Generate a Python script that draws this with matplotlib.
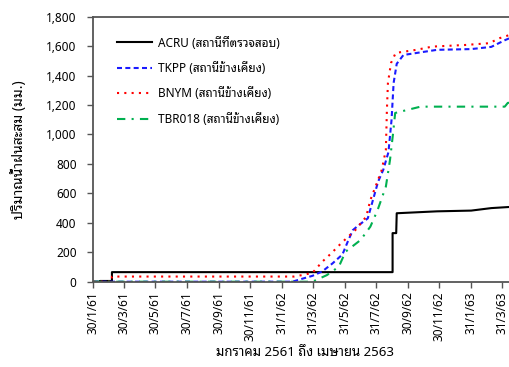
import matplotlib
matplotlib.use("Agg")
import matplotlib.pyplot as plt
import pandas as pd

plt.rcParams['font.family'] = ['Noto Sans Thai Looped', 'DejaVu Sans']

# accumulated rainfall (mm)
acru_dates = ['2018-01-30', '2018-02-12', '2018-02-12', '2018-03-07', '2018-03-07',
              '2019-09-01', '2019-09-01', '2019-09-08', '2019-09-09', '2019-11-26',
              '2020-01-31', '2020-03-10', '2020-04-25']
acru_vals = [0, 0, 5, 5, 65, 65, 330, 330, 465, 478, 483, 500, 510]

tkpp_dates = ['2018-01-30', '2019-02-19', '2019-03-10', '2019-03-30', '2019-04-18',
              '2019-05-08', '2019-05-27', '2019-06-06', '2019-06-16', '2019-06-26',
              '2019-07-15', '2019-07-25', '2019-08-04', '2019-08-14', '2019-08-24',
              '2019-08-30', '2019-09-03', '2019-09-09', '2019-09-22', '2019-11-26',
              '2020-01-31', '2020-03-10', '2020-04-05', '2020-04-25']
tkpp_vals = [0, 0, 20, 40, 70, 125, 185, 270, 350, 380, 430, 555, 680, 760, 880,
             1100, 1350, 1480, 1540, 1575, 1580, 1595, 1640, 1670]

bnym_dates = ['2018-01-30', '2018-03-07', '2018-03-07', '2019-02-22', '2019-03-10',
              '2019-03-30', '2019-04-18', '2019-05-06', '2019-05-25', '2019-06-21',
              '2019-07-12', '2019-07-20', '2019-07-30', '2019-08-11', '2019-08-19',
              '2019-08-21', '2019-08-23', '2019-08-29', '2019-09-07', '2019-10-17',
              '2019-11-17', '2020-01-20', '2020-03-06', '2020-03-26', '2020-04-25']
bnym_vals = [0, 0, 35, 35, 45, 60, 136, 195, 263, 351, 442, 555, 646, 759, 895,
             1167, 1350, 1486, 1554, 1575, 1597, 1608, 1620, 1654, 1688]

tbr_dates = ['2018-01-30', '2019-03-30', '2019-04-27', '2019-05-20', '2019-06-02',
             '2019-07-01', '2019-07-20', '2019-08-03', '2019-08-19', '2019-08-27',
             '2019-09-02', '2019-09-06', '2019-09-16', '2019-10-25', '2020-04-05',
             '2020-04-11', '2020-04-25']
tbr_vals = [0, 0, 45, 102, 204, 283, 374, 487, 646, 827, 1010, 1146, 1155, 1189,
            1189, 1215, 1215]

tick_dates = ['2018-01-30', '2018-03-30', '2018-05-30', '2018-07-30', '2018-09-30',
              '2018-11-30', '2019-01-31', '2019-03-31', '2019-05-31', '2019-07-31',
              '2019-09-30', '2019-11-30', '2020-01-31', '2020-03-31']
tick_labels = ['30/1/61', '30/3/61', '30/5/61', '30/7/61', '30/9/61', '30/11/61',
               '31/1/62', '31/3/62', '31/5/62', '31/7/62', '30/9/62', '30/11/62',
               '31/1/63', '31/3/63']

fig = plt.figure(figsize=(5.1, 3.67), dpi=100)
ax = fig.add_axes([0.183, 0.2324, 0.83, 0.7221])

lw = 1.5
ax.plot(pd.to_datetime(acru_dates), acru_vals, color='black', lw=lw,
        label='ACRU (สถานีที่ตรวจสอบ)')
ax.plot(pd.to_datetime(tkpp_dates), tkpp_vals, color='#1a1aff', lw=lw,
        ls=(0, (2.4, 1.6)), label='TKPP (สถานีข้างเคียง)')
ax.plot(pd.to_datetime(bnym_dates), bnym_vals, color='#ff0000', lw=lw,
        ls=(0, (1, 2.5)), label='BNYM (สถานีข้างเคียง)')
ax.plot(pd.to_datetime(tbr_dates), tbr_vals, color='#00b050', lw=lw,
        ls=(0, (4, 3, 1, 3)), label='TBR018 (สถานีข้างเคียง)')

ax.set_xlim(pd.Timestamp('2018-01-30'), pd.Timestamp('2020-04-28'))
ax.set_ylim(0, 1800)
ax.set_yticks(range(0, 1801, 200))
ax.yaxis.set_major_formatter(matplotlib.ticker.FuncFormatter(lambda v, p: '{:,.0f}'.format(v)))
ax.set_xticks(pd.to_datetime(tick_dates))
ax.set_xticklabels(tick_labels, rotation=90)
ax.tick_params(labelsize=8.5, length=4, width=1, color='#555555')
ax.tick_params(axis='y', pad=8)
ax.tick_params(axis='x', pad=3)
for s in ax.spines.values():
    s.set_color('#555555')
    s.set_linewidth(1.3)

ax.set_xlabel('มกราคม 2561 ถึง เมษายน 2563', fontsize=9.5, labelpad=4)
ax.set_ylabel('ปริมาณน้ำฝนสะสม (มม.)', fontsize=10, labelpad=14)

ax.legend(loc='upper left', bbox_to_anchor=(0.03, 0.965), frameon=False,
          fontsize=8.5, handlelength=3.0, labelspacing=1.05, handletextpad=0.5)

fig.savefig('out.png', dpi=100)
